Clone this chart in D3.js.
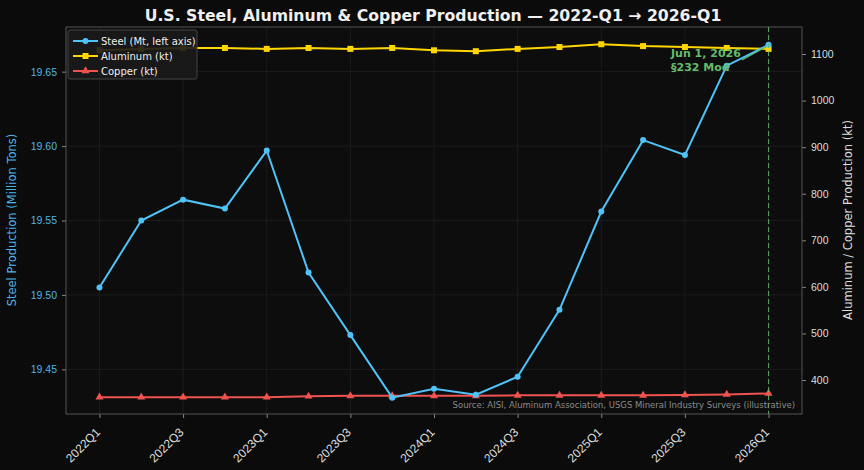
<!DOCTYPE html>
<html><head><meta charset="utf-8">
<script src="https://cdn.jsdelivr.net/npm/d3@7"></script>
<style>
html,body{margin:0;padding:0;background:#0b0b0b;}
svg{display:block;font-family:"DejaVu Sans",sans-serif;}
</style></head>
<body>
<svg id="c" width="864" height="470"></svg>
<script>
const quarters = ["2022Q1","2022Q2","2022Q3","2022Q4","2023Q1","2023Q2","2023Q3","2023Q4","2024Q1","2024Q2","2024Q3","2024Q4","2025Q1","2025Q2","2025Q3","2025Q4","2026Q1"];
const steel = [19.505,19.550,19.564,19.558,19.597,19.515,19.473,19.431,19.437,19.433,19.445,19.490,19.556,19.604,19.594,19.654,19.668];
const aluminum = [1108,1111,1113,1113,1111,1113,1111,1113,1108,1106,1111,1115,1121,1117,1115,1113,1111];
const copper = [363,363,363,363,363,365,366,366,366,366,367,367,367,367,368,369,371];
const xTickLabels = ["2022Q1","2022Q3","2023Q1","2023Q3","2024Q1","2024Q3","2025Q1","2025Q3","2026Q1"];
const leftTicks = [19.45,19.50,19.55,19.60,19.65];
const rightTicks = [400,500,600,700,800,900,1000,1100];
const eventQuarter = "2026Q1";
const eventLabel = ["Jun 1, 2026","§232 Mod"];
const legendLabels = ["Steel (Mt, left axis)","Aluminum (kt)","Copper (kt)"];

const svg = d3.select("#c");
const W=864,H=470;
const m={l:66,r:802,t:27,b:414};
const cSteel="#4fc3f7", cAl="#ffd600", cCu="#ef5350", cEv="#66bb6a";

svg.append("rect").attr("width",W).attr("height",H).attr("fill","#0b0b0b");
svg.append("rect").attr("x",m.l).attr("y",m.t).attr("width",m.r-m.l).attr("height",m.b-m.t).attr("fill","#0d0d0d");

const x = d3.scaleLinear().domain([-0.8, quarters.length-1+0.8]).range([m.l,m.r]);
const yL = d3.scaleLinear().domain([19.420,19.680]).range([m.b,m.t]);
const yR = d3.scaleLinear().domain([327,1158]).range([m.b,m.t]);

// grid
const g = svg.append("g");
xTickLabels.forEach(q=>{
  const xi = x(quarters.indexOf(q));
  g.append("line").attr("x1",xi).attr("x2",xi).attr("y1",m.t).attr("y2",m.b).attr("stroke","#1f1f1f").attr("stroke-width",0.8);
});
leftTicks.forEach(v=>{
  g.append("line").attr("x1",m.l).attr("x2",m.r).attr("y1",yL(v)).attr("y2",yL(v)).attr("stroke","#1f1f1f").attr("stroke-width",0.8);
});

// axes
const xAxis = d3.axisBottom(x).tickValues(xTickLabels.map(q=>quarters.indexOf(q))).tickFormat(i=>quarters[i]).tickSize(4);
const gx = svg.append("g").attr("transform",`translate(0,${m.b})`).call(xAxis);
gx.select(".domain").remove();
gx.selectAll("line").attr("stroke","#888");
gx.selectAll("text").attr("fill","#ddd").style("font-size","12px").attr("text-anchor","end")
  .attr("transform","translate(-2,16) rotate(-45)").attr("dy","0.35em").attr("y",0).attr("x",0);

const gl = svg.append("g").attr("transform",`translate(${m.l},0)`).call(d3.axisLeft(yL).tickValues(leftTicks).tickFormat(d3.format(".2f")).tickSize(4).tickPadding(5));
gl.select(".domain").remove();
gl.selectAll("line").attr("stroke","#888");
gl.selectAll("text").attr("fill","#4fb3e6").style("font-size","10.5px");

const gr = svg.append("g").attr("transform",`translate(${m.r},0)`).call(d3.axisRight(yR).tickValues(rightTicks).tickFormat(d3.format("d")).tickSize(4).tickPadding(5));
gr.select(".domain").remove();
gr.selectAll("line").attr("stroke","#888");
gr.selectAll("text").attr("fill","#ddd").style("font-size","10.5px");

svg.append("rect").attr("x",m.l).attr("y",m.t).attr("width",m.r-m.l).attr("height",m.b-m.t).attr("fill","none").attr("stroke","#555").attr("stroke-width",1);

// lines
const lineL = d3.line().x((d,i)=>x(i)).y(d=>yL(d));
const lineR = d3.line().x((d,i)=>x(i)).y(d=>yR(d));

svg.append("path").datum(copper).attr("d",lineR).attr("fill","none").attr("stroke",cCu).attr("stroke-width",2);
svg.selectAll(".cu").data(copper).enter().append("path").attr("transform",(d,i)=>`translate(${x(i)},${yR(d)})`)
  .attr("d",d3.symbol(d3.symbolTriangle,28)).attr("fill",cCu);

svg.append("path").datum(aluminum).attr("d",lineR).attr("fill","none").attr("stroke",cAl).attr("stroke-width",2);
svg.selectAll(".al").data(aluminum).enter().append("rect").attr("x",(d,i)=>x(i)-3).attr("y",d=>yR(d)-3).attr("width",6).attr("height",6).attr("fill",cAl);

svg.append("path").datum(steel).attr("d",lineL).attr("fill","none").attr("stroke",cSteel).attr("stroke-width",2);
svg.selectAll(".st").data(steel).enter().append("circle").attr("cx",(d,i)=>x(i)).attr("cy",d=>yL(d)).attr("r",3).attr("fill",cSteel);

// event line
const ex = x(quarters.indexOf(eventQuarter));
svg.append("line").attr("x1",ex).attr("x2",ex).attr("y1",m.t).attr("y2",m.b).attr("stroke",cEv).attr("stroke-opacity",0.8).attr("stroke-width",1.2).attr("stroke-dasharray","5,3");
const ann = svg.append("g");
ann.append("line").attr("x1",742).attr("y1",60).attr("x2",ex-3).attr("y2",yL(steel[16])+2).attr("stroke",cEv).attr("stroke-width",1.2);
eventLabel.forEach((t,i)=>{
  ann.append("text").attr("x",671).attr("y",57+i*14).attr("fill",cEv).style("font-size","11px").style("font-weight","bold").text(t);
});

// legend
const lg = svg.append("g").attr("transform","translate(68,30)");
lg.append("rect").attr("width",129).attr("height",49).attr("rx",2).attr("fill","#1a1a1a").attr("fill-opacity",0.9).attr("stroke","#444");
const cols=[cSteel,cAl,cCu];
legendLabels.forEach((t,i)=>{
  const yy = 11+i*15;
  lg.append("line").attr("x1",5).attr("x2",30).attr("y1",yy).attr("y2",yy).attr("stroke",cols[i]).attr("stroke-width",2);
  if(i===0) lg.append("circle").attr("cx",17.5).attr("cy",yy).attr("r",3).attr("fill",cols[i]);
  if(i===1) lg.append("rect").attr("x",14.5).attr("y",yy-3).attr("width",6).attr("height",6).attr("fill",cols[i]);
  if(i===2) lg.append("path").attr("transform",`translate(17.5,${yy})`).attr("d",d3.symbol(d3.symbolTriangle,28)).attr("fill",cols[i]);
  lg.append("text").attr("x",33).attr("y",yy).attr("dy","0.35em").attr("fill","#eee").style("font-size","10px").text(t);
});

// source
svg.append("text").attr("x",795).attr("y",408).attr("text-anchor","end").attr("fill","#8a8a8a").style("font-size","8.5px")
  .text("Source: AISI, Aluminum Association, USGS Mineral Industry Surveys (illustrative)");

// title & labels
svg.append("text").attr("x",433).attr("y",21).attr("text-anchor","middle").attr("fill","#f0f0f0").style("font-size","15.7px").style("font-weight","bold")
  .text("U.S. Steel, Aluminum & Copper Production — 2022-Q1 → 2026-Q1");
svg.append("text").attr("transform","translate(16,220) rotate(-90)").attr("text-anchor","middle").attr("fill","#4fb3e6").style("font-size","11.5px")
  .text("Steel Production (Million Tons)");
svg.append("text").attr("transform","translate(852,220) rotate(-90)").attr("text-anchor","middle").attr("fill","#ddd").style("font-size","11.5px")
  .text("Aluminum / Copper Production (kt)");
</script>
</body></html>
